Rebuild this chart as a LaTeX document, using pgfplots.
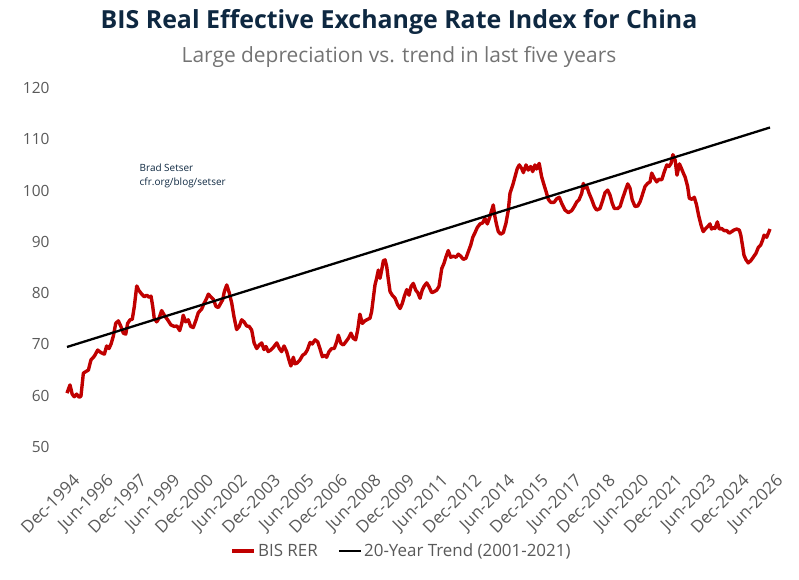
\documentclass[border=0pt]{standalone}
\usepackage{pgfplots}
\pgfplotsset{compat=1.18}
\usepackage{fontspec}
\setmainfont{Open Sans}
\definecolor{navy}{HTML}{0E2841}
\definecolor{subgray}{HTML}{737373}
\definecolor{tickgray}{HTML}{595959}
\definecolor{rerred}{HTML}{C00000}
\begin{document}
\begin{tikzpicture}
\useasboundingbox (-67bp,-133bp) rectangle (732bp,447bp);
\begin{axis}[
  at={(0,0)}, anchor=south west,
  scale only axis, width=703bp, height=359bp,
  xmin=0, xmax=378, ymin=50, ymax=120,
  axis line style={draw=none},
  major tick length=0pt,
  xtick={0,18,...,378},
  xticklabels={Dec-1994,Jun-1996,Dec-1997,Jun-1999,Dec-2000,Jun-2002,Dec-2003,Jun-2005,Dec-2006,Jun-2008,Dec-2009,Jun-2011,Dec-2012,Jun-2014,Dec-2015,Jun-2017,Dec-2018,Jun-2020,Dec-2021,Jun-2023,Dec-2024,Jun-2026},
  ytick={50,60,...,120},
  xticklabel style={rotate=45, anchor=north east, font=\fontsize{17}{19}\selectfont, text=tickgray, inner sep=1bp, yshift=-21bp, xshift=-14bp},
  yticklabel style={font=\fontsize{15.5}{18}\selectfont, text=tickgray, xshift=-14bp},
  /pgf/number format/assume math mode=true,
  legend style={at={(axis description cs:0.476,-0.29)}, anchor=center, draw=none, fill=none,
    font=\fontsize{17}{19}\selectfont, text=tickgray, legend columns=2,
    /tikz/every even column/.append style={column sep=18bp}},
  legend image code/.code={\draw[#1] (0bp,0bp) -- (22bp,0bp);},
  clip=false,
]
\addplot[rerred, line width=3.4bp, line join=round] coordinates {
(0,60.5)(1.6,62.1)(2.8,60.3)(3.9,59.8)(5.2,60.3)(6.5,59.7)(7.5,59.9)(8.8,64.4)(10.1,64.7)(11.5,65.0)
(12.9,67.0)(14.7,67.7)(16.5,68.9)(18.3,68.4)(20.1,68.1)(21.3,69.7)(22.6,69.2)(23.7,70.1)(24.9,71.6)(26.2,74.1)
(27.6,74.6)(29.0,73.5)(30.3,72.2)(31.6,72.0)(32.6,74.1)(33.9,74.8)(35.1,74.9)(36.2,77.4)(37.5,81.4)(38.7,80.5)
(40.2,79.8)(41.6,79.3)(42.9,79.6)(44.1,79.2)(45.2,79.4)(46.1,77.4)(46.9,75.1)(48.2,74.4)(49.5,75.1)(50.9,76.6)
(52.3,75.7)(54.1,74.8)(55.9,73.8)(57.7,73.5)(59.1,73.6)(60.6,72.7)(61.7,74.1)(62.5,75.7)(63.8,74.4)(65.2,74.8)
(66.5,73.5)(67.9,73.3)(69.4,74.8)(70.6,76.2)(72.4,76.9)(73.7,78.0)(75.1,79.0)(76.0,79.8)(77.3,79.3)(78.7,78.8)
(80.1,77.4)(81.4,77.2)(82.6,78.0)(83.7,78.7)(84.6,80.3)(85.9,81.6)(87.3,80.0)(88.6,78.0)(89.8,75.4)(91.2,72.9)
(92.6,73.5)(93.9,74.8)(95.2,74.4)(96.6,73.6)(98.0,73.5)(99.3,72.8)(100.6,70.3)(102.0,69.2)(103.4,69.9)(104.7,70.3)
(105.9,69.0)(107.0,69.6)(108.2,68.6)(109.5,68.9)(110.9,69.4)(112.8,70.3)(114.2,69.2)(115.4,68.6)(116.7,69.7)(118.1,68.6)
(119.5,66.8)(120.4,65.8)(121.7,67.5)(122.6,66.2)(123.8,66.4)(125.3,67.0)(126.7,67.9)(128.0,68.2)(129.2,68.9)(130.7,70.4)
(131.9,70.1)(133.4,70.9)(134.8,70.5)(136.0,69.2)(137.3,67.6)(138.4,67.9)(139.6,67.5)(140.9,68.6)(142.3,69.2)(143.7,69.2)
(145.0,70.5)(145.9,71.8)(147.3,70.2)(148.6,69.9)(149.9,70.5)(151.3,71.2)(152.7,72.2)(153.9,71.2)(155.2,70.9)(156.3,72.8)
(157.5,75.9)(158.8,74.1)(160.2,74.6)(161.7,74.9)(162.9,75.1)(163.8,76.4)(164.7,79.0)(165.6,81.6)(166.5,82.9)(167.4,84.5)
(168.3,82.9)(169.2,84.5)(170.1,86.3)(171.0,86.5)(171.9,85.2)(172.8,82.6)(173.7,80.3)(174.9,79.6)(176.4,79.0)(177.8,77.7)
(179.1,77.0)(180.3,78.0)(181.4,79.4)(182.7,80.7)(183.9,79.6)(185.0,81.3)(186.2,81.9)(187.5,80.6)(188.6,80.1)(189.8,79.0)
(191.0,80.6)(192.1,81.4)(193.4,82.0)(194.6,81.3)(196.1,80.1)(197.5,80.3)(198.8,80.6)(200.0,81.3)(201.5,84.8)(202.7,85.8)
(203.8,87.1)(205.0,88.3)(206.3,87.0)(207.7,87.2)(209.2,87.0)(210.4,87.6)(211.7,87.2)(213.1,86.6)(214.5,86.8)(215.8,88.1)
(217.1,89.4)(218.2,90.9)(219.4,91.8)(220.6,92.8)(222.1,93.5)(223.5,93.7)(224.7,94.6)(226.0,93.5)(227.1,94.6)(228.4,96.2)
(229.2,97.2)(230.1,94.9)(231.0,93.3)(231.9,92.0)(233.2,91.5)(234.6,91.8)(236.0,93.6)(237.3,96.2)(238.2,99.5)(239.7,101.1)
(240.9,102.7)(242.1,104.3)(243.2,105.0)(244.5,104.3)(245.4,103.5)(246.8,105.0)(248.0,104.0)(249.3,104.7)(250.4,103.7)(251.6,105.0)
(252.5,104.2)(253.9,105.3)(255.2,102.7)(256.5,101.1)(257.6,99.8)(258.8,98.3)(260.1,97.7)(261.9,97.7)(263.3,98.4)(264.7,98.7)
(266.0,97.5)(267.8,96.2)(269.6,95.7)(271.4,96.1)(272.8,96.9)(274.1,97.8)(275.3,98.2)(276.8,99.5)(277.6,101.4)(278.5,100.5)
(279.5,100.8)(280.7,99.5)(282.1,98.3)(283.5,96.9)(284.8,96.2)(286.6,96.5)(287.8,97.8)(289.3,99.6)(290.7,100.1)(292.0,99.1)
(293.2,97.5)(294.3,96.5)(296.1,96.5)(297.4,96.9)(298.6,98.3)(300.0,99.8)(301.5,101.3)(302.7,100.5)(303.9,98.2)(305.4,96.9)
(306.9,97.0)(308.1,97.8)(309.3,99.1)(310.8,100.8)(312.2,101.4)(313.5,101.7)(314.4,103.4)(315.8,102.4)(317.1,101.7)(318.3,102.2)
(319.8,102.1)(321.2,103.7)(322.5,105.0)(323.7,104.7)(324.8,105.3)(325.8,107.0)(327.0,105.9)(328.0,103.0)(329.3,105.2)(330.4,104.3)
(331.4,103.4)(332.4,102.6)(333.7,100.8)(334.6,98.5)(336.0,98.3)(337.3,98.7)(338.5,97.2)(339.6,95.2)(340.9,93.3)(342.1,92.0)
(343.2,92.5)(344.8,93.1)(345.7,93.5)(346.6,92.5)(347.5,92.8)(348.4,92.6)(349.7,93.9)(350.7,92.5)(352.0,92.6)(353.3,92.2)
(354.7,92.2)(356.1,91.7)(357.4,92.0)(358.6,92.3)(360.1,92.5)(361.5,92.3)(362.3,91.3)(363.3,89.1)(364.0,87.4)(365.1,86.5)
(366.3,85.9)(367.6,86.3)(369.0,87.0)(370.5,87.8)(371.7,88.9)(373.0,89.4)(374.1,90.4)(374.8,91.3)(376.2,90.9)(377.1,91.7)
(378.0,92.5)
};
\addlegendentry{BIS RER}
\addplot[black, line width=2.3bp] coordinates {(0,69.5)(378,112.3)};
\addlegendentry{20-Year Trend (2001-2021)}
\end{axis}
\node[font=\bfseries\fontsize{25}{28}\selectfont, text=navy] at (332bp,425bp) {BIS Real Effective Exchange Rate Index for China};
\node[font=\fontsize{21}{23}\selectfont, text=subgray] at (332bp,390bp) {Large depreciation vs. trend in last five years};
\node[font=\fontsize{10}{12}\selectfont, text=navy, anchor=west, inner sep=0pt] at (72.5bp,279bp) {Brad Setser};
\node[font=\fontsize{10}{12}\selectfont, text=navy, anchor=west, inner sep=0pt] at (72.5bp,264bp) {cfr.org/blog/setser};
\end{tikzpicture}
\end{document}
